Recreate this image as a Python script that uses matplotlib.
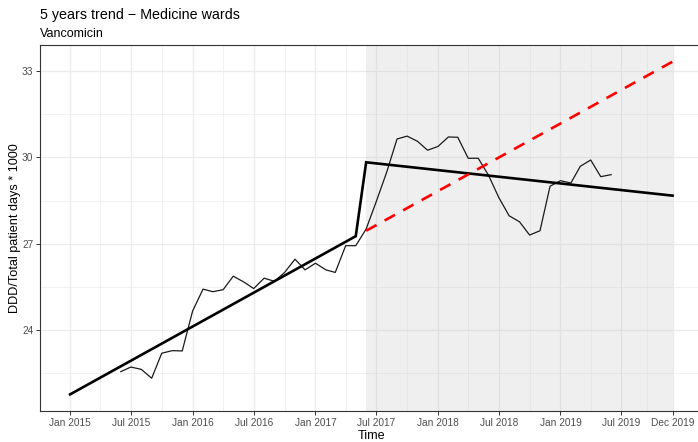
import numpy as np
import pandas as pd
import matplotlib
matplotlib.use("Agg")
import matplotlib.pyplot as plt
import matplotlib.dates as mdates
from matplotlib import rc

rc('font', **{'family': 'sans-serif', 'sans-serif': ['Liberation Sans', 'DejaVu Sans']})

# monthly consumption, Jun 2015 - Jun 2019
months = pd.date_range("2015-06-01", "2019-06-01", freq="MS")
ddd = [22.55, 22.71, 22.63, 22.32, 23.19, 23.28, 23.27,
       24.66, 25.42, 25.33, 25.40, 25.87, 25.67, 25.44, 25.80, 25.69, 26.00, 26.46, 26.09,
       26.32, 26.09, 26.00, 26.93, 26.93, 27.51, 28.46, 29.48, 30.64, 30.74, 30.56, 30.25,
       30.38, 30.71, 30.70, 29.97, 29.97, 29.37, 28.61, 27.97, 27.76, 27.30, 27.45, 29.00,
       29.19, 29.11, 29.69, 29.91, 29.33, 29.40]

# segmented regression fit (pre / post intervention)
trend_dates = pd.to_datetime(["2015-01-01", "2017-05-01", "2017-06-01", "2019-12-01"])
trend_vals = [21.76, 27.26, 29.83, 28.67]

# counterfactual: pre-intervention trend carried on
cf_dates = pd.to_datetime(["2017-06-01", "2019-12-01"])
cf_vals = [27.45, 33.33]

intervention = pd.Timestamp("2017-06-01")
end_date = pd.Timestamp("2019-12-01")

tick_dates = pd.to_datetime(["2015-01-01", "2015-07-01", "2016-01-01", "2016-07-01",
                             "2017-01-01", "2017-07-01", "2018-01-01", "2018-07-01",
                             "2019-01-01", "2019-07-01", "2019-12-01"])

W, H = 698, 442
fig = plt.figure(figsize=(W/100, H/100), dpi=100)
fig.patch.set_facecolor('w')

left, right, top, bottom = 40, 702.7, 45, 411
ax = fig.add_axes([left/W, 1 - bottom/H, (right-left)/W, (bottom-top)/H])

# grid (theme_bw style)
ax.set_axisbelow(True)
tick_num = mdates.date2num(tick_dates)
minor_x = (tick_num[:-1] + tick_num[1:]) / 2
for xv in tick_num:
    ax.axvline(xv, color='#EBEBEB', lw=0.9, zorder=0)
for xv in minor_x:
    ax.axvline(xv, color='#EBEBEB', lw=0.5, zorder=0)
for yv in [24, 27, 30, 33]:
    ax.axhline(yv, color='#EBEBEB', lw=0.9, zorder=0)
for yv in [22.5, 25.5, 28.5, 31.5]:
    ax.axhline(yv, color='#EBEBEB', lw=0.5, zorder=0)

ax.axvspan(intervention, end_date, color='#BEBEBE', alpha=0.23, lw=0, zorder=1)

ax.plot(months, ddd, color='#1A1A1A', lw=0.9, zorder=3)
ax.plot(trend_dates, trend_vals, color='black', lw=1.9, zorder=4, solid_joinstyle='miter')
ax.plot(cf_dates, cf_vals, color='red', lw=1.9, ls=(0, (4.5, 3.5)), zorder=4)

span = end_date - pd.Timestamp("2015-01-01")
ax.set_xlim(pd.Timestamp("2015-01-01") - span*0.05, end_date + span*0.05)
ymin, ymax = 21.76, 33.33
ax.set_ylim(ymin - 0.05*(ymax-ymin), ymax + 0.05*(ymax-ymin))

ax.set_xticks(tick_dates)
ax.set_xticklabels([d.strftime("%b %Y") for d in tick_dates])
ax.set_yticks([24, 27, 30, 33])
ax.tick_params(axis='both', length=2.8, width=0.7, color='#333333', labelcolor='#4D4D4D',
               labelsize=7.3, pad=2)

for sp in ax.spines.values():
    sp.set_color('#333333')
    sp.set_linewidth(0.8)

ax.set_xlabel("Time", fontsize=9.1, labelpad=1.5)
ax.set_ylabel("DDD/Total patient days * 1000", fontsize=9.1, labelpad=0.5)

fig.text(left/W, 1 - 19/H, "5 years trend \u2212 Medicine wards", fontsize=10.3, va='baseline', ha='left')
fig.text(left/W, 1 - 36.7/H, "Vancomicin", fontsize=9, va='baseline', ha='left')

fig.savefig("out.png", dpi=100)
